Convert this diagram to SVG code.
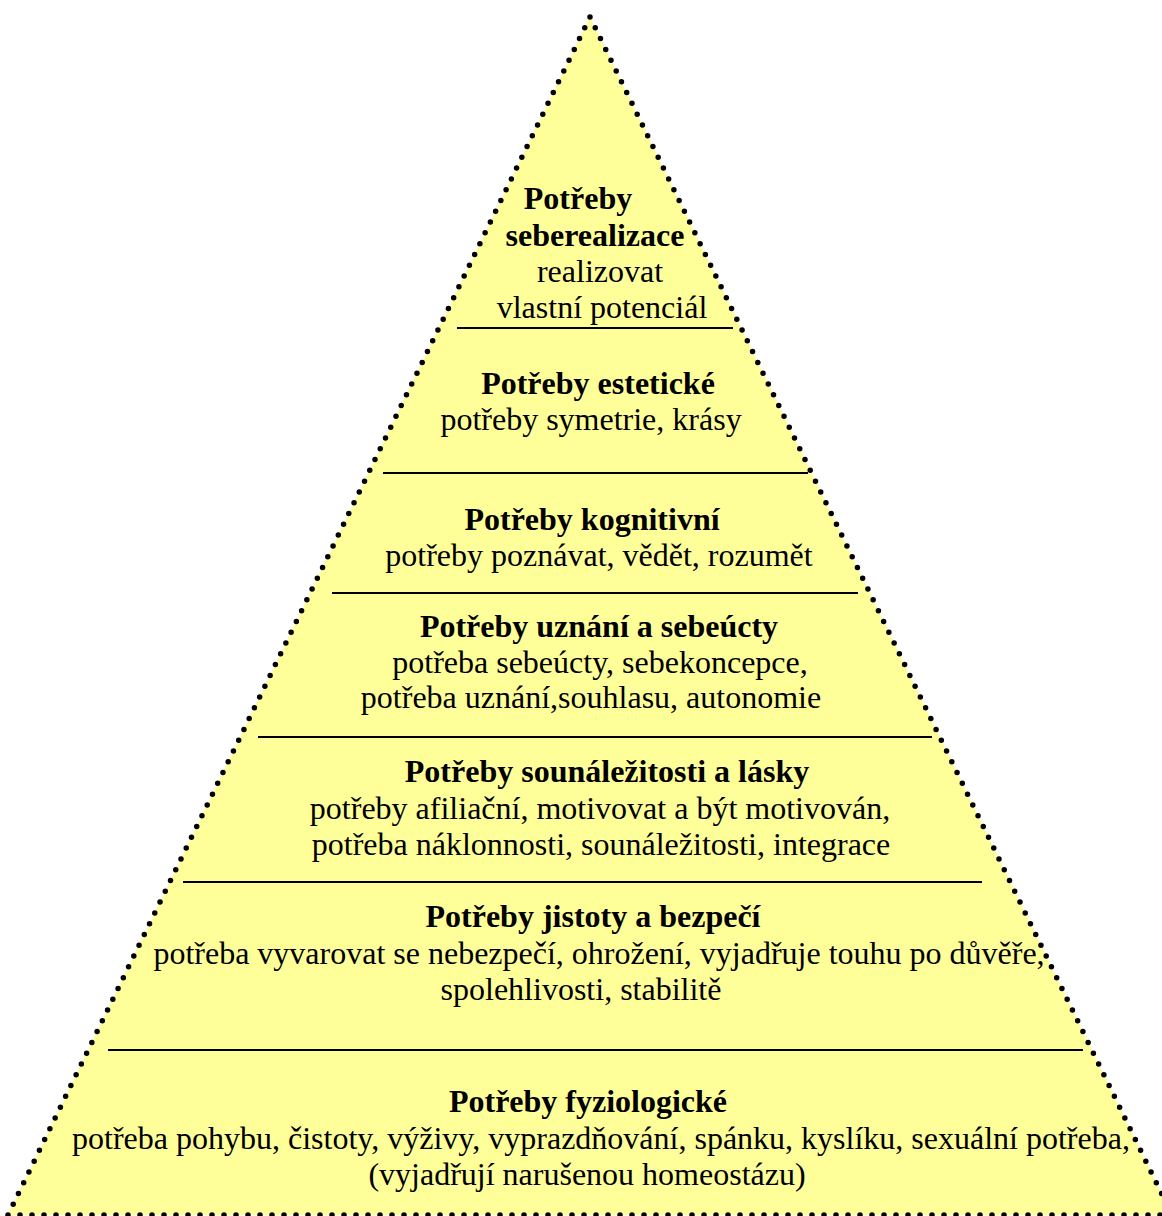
<svg xmlns="http://www.w3.org/2000/svg" width="1162" height="1216" viewBox="0 0 1162 1216">
<style>
.t{font-family:"Liberation Serif","Times New Roman",serif;font-size:32px;fill:#000;text-anchor:middle}
.b{font-weight:bold}
.sep{stroke:#000;stroke-width:2}
</style>
<rect width="1162" height="1216" fill="#fff"/>
<g id="pyramid">
<polygon points="590,17 8,1215 1172,1215" fill="#FFFF99"/>
<path d="M590,17 L8,1215 M590,17 L1172,1215 M8,1215 L1172,1215" fill="none" stroke="#000" stroke-width="5.5" stroke-linecap="round" stroke-dasharray="0 12"/>
</g>
<g id="connectors">
<line class="sep" x1="457" y1="328" x2="733" y2="328"/>
<line class="sep" x1="383" y1="473" x2="808" y2="473"/>
<line class="sep" x1="332" y1="593" x2="858" y2="593"/>
<line class="sep" x1="258" y1="737" x2="932" y2="737"/>
<line class="sep" x1="183" y1="882" x2="982" y2="882"/>
<line class="sep" x1="108" y1="1050" x2="1083" y2="1050"/>
</g>
<g id="level7">
<text class="t b" x="578" y="209">Potřeby</text>
<text class="t b" x="595" y="246">seberealizace</text>
<text class="t" x="600" y="282">realizovat</text>
<text class="t" x="602" y="318">vlastní potenciál</text>
</g>
<g id="level6">
<text class="t b" x="598" y="394">Potřeby estetické</text>
<text class="t" x="591" y="430">potřeby symetrie, krásy</text>
</g>
<g id="level5">
<text class="t b" x="592" y="530">Potřeby kognitivní</text>
<text class="t" x="599" y="566">potřeby poznávat, vědět, rozumět</text>
</g>
<g id="level4">
<text class="t b" x="599" y="637">Potřeby uznání a sebeúcty</text>
<text class="t" x="600" y="673">potřeba sebeúcty, sebekoncepce,</text>
<text class="t" x="591" y="708">potřeba uznání,souhlasu, autonomie</text>
</g>
<g id="level3">
<text class="t b" x="607" y="782">Potřeby sounáležitosti a lásky</text>
<text class="t" x="600" y="819">potřeby afiliační, motivovat a být motivován,</text>
<text class="t" x="601" y="855">potřeba náklonnosti, sounáležitosti, integrace</text>
</g>
<g id="level2">
<text class="t b" x="593" y="927">Potřeby jistoty a bezpečí</text>
<text class="t" x="599" y="964">potřeba vyvarovat se nebezpečí, ohrožení, vyjadřuje touhu po důvěře,</text>
<text class="t" x="581" y="1000">spolehlivosti, stabilitě</text>
</g>
<g id="level1">
<text class="t b" x="588" y="1112">Potřeby fyziologické</text>
<text class="t" x="601" y="1149">potřeba pohybu, čistoty, výživy, vyprazdňování, spánku, kyslíku, sexuální potřeba,</text>
<text class="t" x="587" y="1185">(vyjadřují narušenou homeostázu)</text>
</g>
</svg>
